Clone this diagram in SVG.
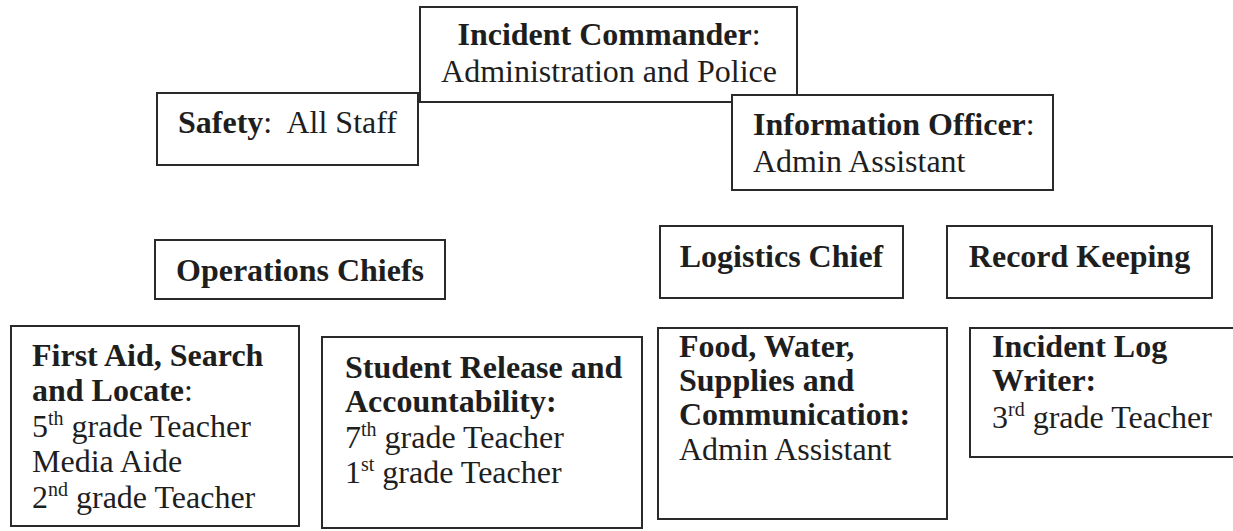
<svg xmlns="http://www.w3.org/2000/svg" width="1233" height="531" viewBox="0 0 1233 531">
<style>
.box{fill:#fff;stroke:#2a2a2a;stroke-width:2}
text{font-family:"Liberation Serif","Times New Roman",serif;font-size:32px;fill:#1e1e1e}
.b{font-weight:bold}
.sup{font-size:20px}
.c{text-anchor:middle}
</style>
<rect width="1233" height="531" fill="#fff"/>
<g id="connectors"></g>
<g id="incident-commander">
<rect class="box" x="420" y="7" width="377" height="95"/>
<text class="c" x="609" y="45"><tspan class="b">Incident Commander</tspan>:</text>
<text class="c" x="609" y="82">Administration and Police</text>
</g>
<g id="safety">
<rect class="box" x="157" y="93" width="261" height="72"/>
<text x="178" y="133" xml:space="preserve"><tspan class="b">Safety</tspan>:  All Staff</text>
</g>
<g id="information-officer">
<rect class="box" x="732" y="95" width="321" height="95"/>
<text x="753" y="135"><tspan class="b">Information Officer</tspan>:</text>
<text x="753" y="172">Admin Assistant</text>
</g>
<g id="operations-chiefs">
<rect class="box" x="155" y="240" width="290" height="59"/>
<text class="b c" x="300" y="281">Operations Chiefs</text>
</g>
<g id="logistics-chief">
<rect class="box" x="660" y="226" width="243" height="72"/>
<text class="b c" x="781.5" y="267">Logistics Chief</text>
</g>
<g id="record-keeping">
<rect class="box" x="947" y="226" width="265" height="72"/>
<text class="b c" x="1079.5" y="267">Record Keeping</text>
</g>
<g id="first-aid">
<rect class="box" x="11" y="326" width="288" height="200"/>
<text x="32" y="366" class="b">First Aid, Search</text>
<text x="32" y="401"><tspan class="b">and Locate</tspan>:</text>
<text x="32" y="437">5<tspan class="sup" dy="-12">th</tspan><tspan dy="12"> grade Teacher</tspan></text>
<text x="32" y="472">Media Aide</text>
<text x="32" y="508">2<tspan class="sup" dy="-12">nd</tspan><tspan dy="12"> grade Teacher</tspan></text>
</g>
<g id="student-release">
<rect class="box" x="322" y="337" width="320" height="191"/>
<text x="345" y="378" class="b">Student Release and</text>
<text x="345" y="412" class="b">Accountability:</text>
<text x="345" y="448">7<tspan class="sup" dy="-12">th</tspan><tspan dy="12"> grade Teacher</tspan></text>
<text x="345" y="483">1<tspan class="sup" dy="-12">st</tspan><tspan dy="12"> grade Teacher</tspan></text>
</g>
<g id="food-water">
<rect class="box" x="658" y="328" width="289" height="191"/>
<text x="679" y="357" class="b">Food, Water,</text>
<text x="679" y="391" class="b">Supplies and</text>
<text x="679" y="425" class="b">Communication:</text>
<text x="679" y="460">Admin Assistant</text>
</g>
<g id="incident-log">
<rect class="box" x="970" y="328" width="272" height="129"/>
<text x="992" y="357" class="b">Incident Log</text>
<text x="992" y="391" class="b">Writer:</text>
<text x="992" y="428">3<tspan class="sup" dy="-12">rd</tspan><tspan dy="12"> grade Teacher</tspan></text>
</g>
</svg>
